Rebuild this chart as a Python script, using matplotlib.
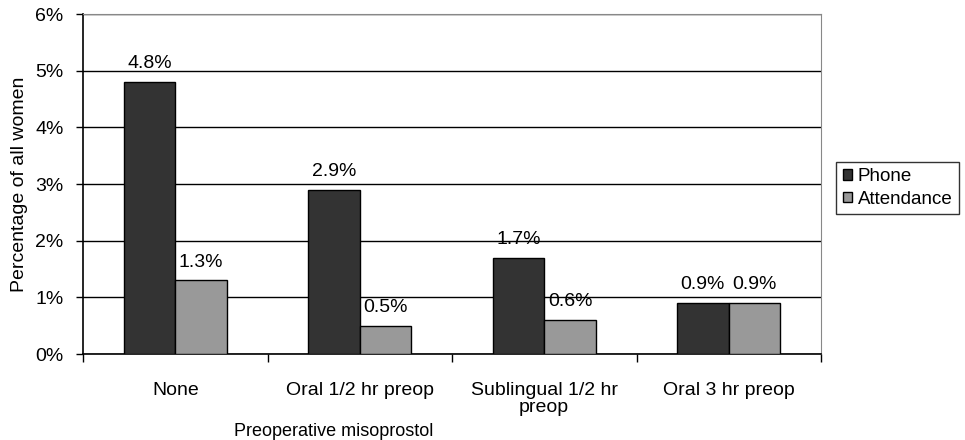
import matplotlib
matplotlib.use("Agg")
import matplotlib.pyplot as plt
import numpy as np
from matplotlib.patches import Patch

categories = ["None", "Oral 1/2 hr preop", "Sublingual 1/2 hr\npreop", "Oral 3 hr preop"]
phone = [4.8, 2.9, 1.7, 0.9]
attendance = [1.3, 0.5, 0.6, 0.9]
yticks = [0, 1, 2, 3, 4, 5, 6]

plt.rcParams['font.family'] = ['Liberation Sans', 'DejaVu Sans']
FS = 14
fig = plt.figure(figsize=(9.65, 4.4), dpi=100)
ax = fig.add_axes([83/965, 1-354/440, (821-83)/965, (354-14)/440])

x = np.arange(len(categories))
w = 0.28
b1 = ax.bar(x - w/2, phone, w, color='#333333', edgecolor='black', linewidth=1, zorder=3, label='Phone')
b2 = ax.bar(x + w/2, attendance, w, color='#999999', edgecolor='black', linewidth=1, zorder=3, label='Attendance')

for bars, vals in ((b1, phone), (b2, attendance)):
    for r, v in zip(bars, vals):
        ax.text(r.get_x() + r.get_width()/2, v + 0.17, f"{v:.1f}%", ha='center', va='bottom', fontsize=FS)

ax.set_xlim(-0.5, len(categories) - 0.5)
ax.set_ylim(0, 6)
ax.set_yticks(yticks)
ax.set_yticklabels([f"{t}%" for t in yticks], fontsize=FS)
ax.yaxis.grid(True, color='black', linewidth=1, zorder=0)
ax.set_axisbelow(True)
ax.set_xticks(np.arange(-0.5, len(categories), 1.0))
ax.set_xticklabels([])
ax.set_xticks(x, minor=True)
ax.set_xticklabels(categories, minor=True, fontsize=FS, linespacing=1.0)
ax.tick_params(axis='x', which='minor', length=0, pad=20)
ax.tick_params(axis='x', which='major', length=6, width=1, direction='out')
ax.tick_params(axis='y', length=5, width=1, direction='out', pad=9)
for s in ('top', 'right'):
    ax.spines[s].set_color('#888888')
for s in ('left', 'bottom'):
    ax.spines[s].set_color('black')
    ax.spines[s].set_linewidth(1.2)

ax.set_ylabel("Percentage of all women", fontsize=FS, labelpad=5)
fig.text(334/965, 1 - 431/440, "Preoperative misoprostol", ha='center', va='center', fontsize=13)

handles = [Patch(facecolor='#333333', edgecolor='black'), Patch(facecolor='#999999', edgecolor='black')]
leg = fig.legend(handles, ['Phone', 'Attendance'], loc='center left', bbox_to_anchor=(836/965, 1 - 188/440),
                 frameon=True, fancybox=False, edgecolor='black', fontsize=13.5,
                 handlelength=0.5, handleheight=0.5, handletextpad=0.3, borderpad=0.35, labelspacing=0.3,
                 borderaxespad=0)
leg.get_frame().set_linewidth(1)

fig.savefig("out.png", dpi=100)
